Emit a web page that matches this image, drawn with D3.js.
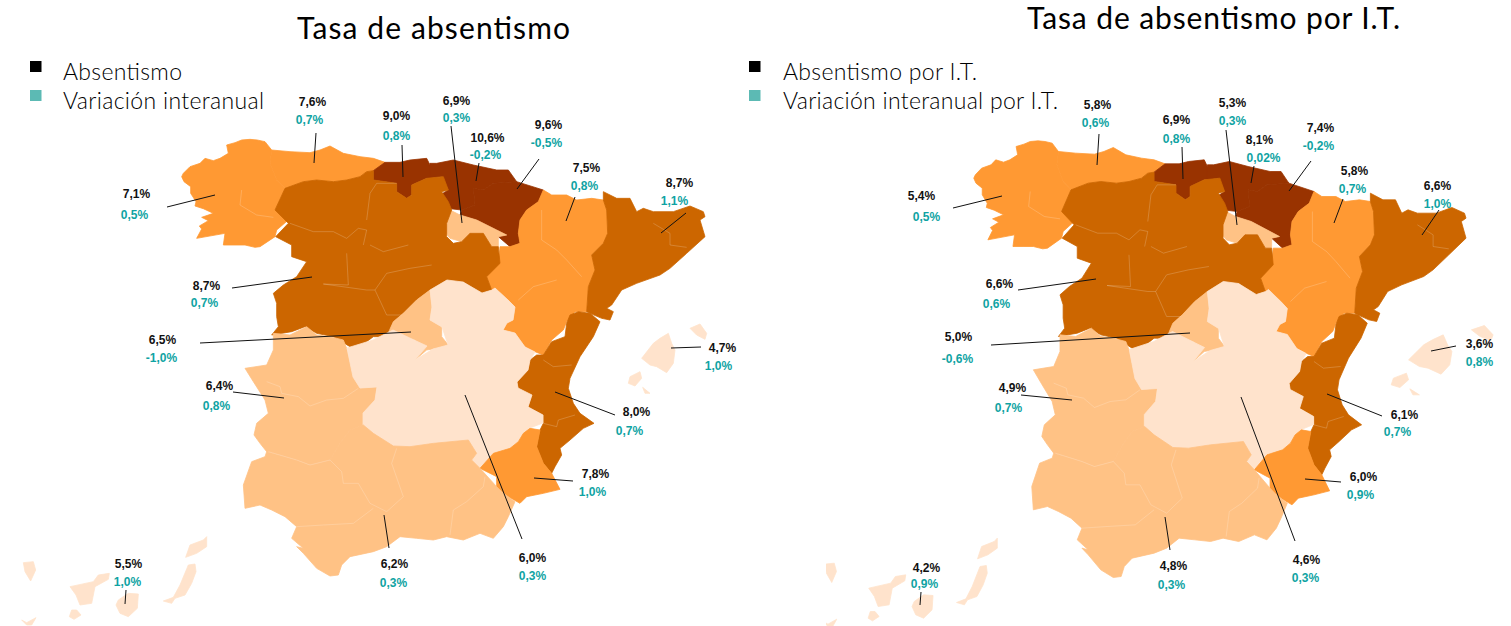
<!DOCTYPE html>
<html><head><meta charset="utf-8">
<style>
html,body{margin:0;padding:0;background:#fff;overflow:hidden}
svg{display:block}
.t{font-family:Lato,"Open Sans",sans-serif;font-weight:300;fill:#000}
.tt{font-weight:400}
.v{font-family:"Liberation Sans",Arial,sans-serif;font-weight:700;font-size:12px;text-anchor:middle}
</style>
<script src="https://cdn.jsdelivr.net/npm/d3@7"></script>
</head><body>
<script>
// ---------- data ----------
const regiones = ["Galicia","Asturias","Cantabria","País Vasco","Navarra","La Rioja","Aragón","Cataluña","Castilla y León","Madrid","Extremadura","C. Valenciana","Castilla-La Mancha","Murcia","Andalucía","Baleares","Canarias"];
const absentismo   = [7.1,7.6,9.0,10.6,9.6,6.9,7.5,8.7,8.7,6.5,6.4,8.0,6.0,7.8,6.2,4.7,5.5];
const variacion    = [0.5,0.7,0.8,-0.2,-0.5,0.3,0.8,1.1,0.7,-1.0,0.8,0.7,0.3,1.0,0.3,1.0,1.0];
const absentismoIT = [5.4,5.8,6.9,8.1,7.4,5.3,5.8,6.6,6.6,5.0,4.9,6.1,4.6,6.0,4.8,3.6,4.2];
const variacionIT  = [0.5,0.6,0.8,0.02,-0.2,0.3,0.7,1.0,0.6,-0.6,0.7,0.7,0.3,0.9,0.3,0.8,0.9];
const paleta = ["#FFE3CC","#FFC285","#FF9933","#CC6600","#993300"];
const cortes   = [6.1,7,8,9];
const cortesIT = [4.7,5.4,6.1,6.9];

// ---------- map outlines (map units, drawn through scales) ----------
const fr=(ox,oy,p)=>p.map(([x,y])=>[ox+x/3,oy+y/3]);
const A=p=>fr(170,130,p), B=p=>fr(420,130,p), C=p=>fr(230,320,p), D=p=>fr(470,300,p), E=p=>fr(0,520,p);
const formas = {
 "Galicia":[A([[40,130],[60,110],[90,100],[105,85],[130,92],[150,85],[175,70],[170,45],[195,38],[215,30],[240,28],[262,30],[285,35],[305,60],[300,100],[320,150],[345,175],[315,240],[355,270],[320,300],[315,320],[270,350],[255,352],[225,345],[195,345],[160,345],[165,310],[80,325],[95,297],[88,288],[115,272],[95,262],[130,250],[100,236],[75,228],[78,215],[62,190],[62,170],[42,155],[35,140]])],
 "Asturias":[A([[305,60],[360,65],[420,68],[450,60],[480,48],[520,70],[570,80],[610,85],[645,97],[610,122],[590,125],[570,140],[530,150],[490,155],[440,150],[400,155],[345,175],[320,150],[300,100]])],
 "Cantabria":[A([[610,122],[645,97],[690,97],[720,90],[770,85],[780,105],[790,120],[785,145],[770,145],[725,165],[725,195],[710,205],[680,185],[680,160],[610,150]])],
 "País Vasco":[B([[30,100],[50,100],[100,90],[160,105],[230,120],[265,120],[290,155],[220,160],[190,180],[160,175],[165,225],[125,240],[80,235],[60,195],[85,180],[65,140],[30,145]])],
 "Navarra":[B([[290,155],[370,180],[355,215],[320,240],[300,270],[295,310],[300,340],[270,350],[235,320],[260,315],[230,300],[170,270],[120,255],[125,240],[165,225],[160,175],[190,180],[220,160]])],
 "La Rioja":[B([[80,235],[120,255],[170,270],[230,300],[260,315],[235,320],[235,350],[215,350],[190,310],[150,310],[125,335],[90,325],[78,310]])],
 "Aragón":[B([[370,180],[395,195],[440,195],[470,210],[515,205],[550,210],[560,240],[563,310],[550,340],[515,375],[525,420],[505,470],[500,545],[465,545],[440,575],[430,600],[395,630],[370,675],[345,665],[315,650],[285,610],[250,600],[260,580],[280,570],[285,530],[265,510],[225,475],[215,480],[200,440],[235,400],[240,350],[270,350],[300,340],[295,310],[300,270],[320,240],[355,215]])],
 "Cataluña":[B([[550,185],[590,205],[630,205],[650,245],[670,235],[700,245],[760,245],[810,228],[850,245],[855,260],[840,270],[855,320],[800,370],[750,415],[720,435],[650,460],[605,480],[575,525],[560,535],[580,545],[570,570],[545,565],[510,550],[500,545],[505,470],[525,420],[515,375],[550,340],[563,310],[560,240],[550,210]])],
 "Castilla y León":[A([[345,175],[400,155],[440,150],[490,155],[530,150],[570,140],[590,125],[610,122],[610,150],[680,160],[680,185],[710,205],[725,195],[725,165],[770,145],[820,140],[835,180],[815,185],[835,215],[845,240],[830,280],[830,320],[850,340],[875,335],[900,310],[940,310],[965,350],[985,350],[990,400],[950,440],[965,480],[935,490],[880,455],[850,460],[830,450],[780,480],[740,510],[700,550],[670,575],[650,620],[610,620],[570,650],[540,650],[490,620],[440,610],[405,590],[365,605],[305,615],[325,590],[320,560],[320,520],[310,490],[340,465],[380,440],[410,395],[365,380],[365,345],[317,320],[355,280],[315,240]])],
 "Madrid":[A([[670,575],[700,550],[740,510],[780,480],[785,530],[780,570],[815,590],[815,620],[835,645],[800,655],[770,660],[735,690],[757,650],[735,630],[670,610],[650,620]])],
 "Extremadura":[C([[130,40],[180,45],[230,20],[260,45],[300,50],[340,60],[350,85],[370,170],[390,205],[440,200],[435,240],[400,280],[400,315],[360,330],[330,370],[300,420],[240,435],[200,420],[150,405],[110,395],[90,370],[72,345],[80,310],[115,280],[105,240],[70,185],[45,145],[110,135],[130,90]])],
 "C. Valenciana":[D([[300,45],[325,35],[360,40],[390,65],[370,110],[330,170],[300,235],[295,265],[310,310],[330,340],[372,370],[340,385],[300,420],[270,445],[275,465],[255,500],[245,520],[220,490],[200,440],[210,390],[220,370],[220,345],[175,320],[185,285],[145,265],[140,245],[175,210],[180,180],[200,165],[220,165],[245,125],[285,110],[290,70]])],
 "Castilla-La Mancha":[[[430,290],[447,280],[463,282],[482,293],[492,290],[495,288],[508,300],[515,307],[513,320],[507,323],[503,330],[515,333],[525,347],[535,352],[530,360],[528,370],[517,382],[518,388],[532,395],[528,407],[543,415],[543,423],[530,428],[523,433],[518,442],[510,448],[493,453],[480,468],[472,460],[477,453],[468,440],[433,443],[410,447],[393,446],[373,433],[363,425],[363,413],[375,400],[377,387],[360,388],[353,377],[347,348],[373,340],[393,330],[414,340],[427,346],[415,360],[433,349],[448,345],[442,327],[430,320],[432,307]]],
 "Murcia":[D([[180,385],[210,390],[200,440],[220,490],[245,520],[270,568],[220,580],[170,590],[150,610],[115,590],[80,565],[80,530],[30,505],[70,460],[120,445],[145,425],[160,400]])],
 "Andalucía":[C([[110,395],[150,405],[200,420],[240,435],[300,420],[330,370],[360,330],[400,315],[430,340],[490,378],[540,380],[610,370],[715,360],[740,400],[725,420],[750,445],[800,500],[820,520],[855,545],[835,590],[820,620],[790,655],[750,640],[700,660],[650,650],[610,660],[560,655],[510,650],[470,680],[430,695],[360,710],[335,735],[325,765],[300,768],[260,745],[220,700],[200,680],[220,685],[185,655],[200,620],[165,590],[125,570],[90,555],[45,565],[40,495],[65,425],[105,410]])],
 "Baleares":[D([[595,100],[605,130],[615,150],[610,190],[590,218],[560,200],[540,195],[515,175],[550,130],[570,115]]),D([[660,85],[690,72],[710,100],[705,118],[680,105]]),D([[480,230],[510,215],[515,235],[495,258],[475,250]]),D([[518,262],[540,280],[525,280]])],
 "Canarias":[E([[70,128],[100,125],[107,150],[92,183],[75,155]]),E([[65,300],[80,308],[108,293],[95,315],[80,315]]),E([[215,270],[230,270],[243,285],[222,298],[208,290]]),E([[210,200],[280,185],[295,165],[328,160],[325,178],[285,200],[275,250],[240,255],[228,225]]),E([[355,240],[385,220],[415,222],[412,265],[385,290],[360,280],[348,255]]),E([[565,135],[585,132],[588,155],[575,190],[555,225],[525,235],[515,250],[490,243],[520,232],[540,195]]),E([[570,75],[610,60],[620,50],[620,80],[590,100],[557,112]])]
};
const limites = [
 A([[590,270],[600,190],[620,160],[680,160]]),
 A([[360,280],[430,305],[490,305],[530,325],[565,295],[590,300],[580,345]]),
 A([[600,345],[640,365],[715,345]]),
 A([[530,370],[535,465],[460,462],[590,480],[615,480],[650,430],[720,415],[785,405]]),
 A([[615,480],[650,555],[695,555]]),
 A([[215,180],[210,225],[260,255],[310,262]]),
 B([[365,240],[365,330],[410,360],[440,390],[485,440]]),
 B([[700,280],[750,310],[750,345],[800,352]]),
 B([[295,510],[340,470],[410,450]]),
 D([[220,370],[260,380],[265,360],[315,345]]),
 D([[220,180],[250,200],[305,195]]),
 C([[110,185],[150,200],[155,220],[205,230],[240,258],[290,240],[340,235],[385,205]]),
 C([[115,395],[200,420],[240,435],[300,420],[335,455],[340,490],[385,490],[420,550],[470,575],[520,530],[485,430],[500,385]]),
 C([[200,620],[280,615],[370,610],[430,565]]),
 C([[660,645],[670,570],[710,545],[760,500],[765,470]])
];

// ---------- layout ----------
// value label xy, change label xy, leader x1,y1,x2,y2  (same order as regiones)
const rotulos = [
 [136,193,134,214,167,207,215,195],[312,101,309,119,316,133,314,163],[396,115,396,135,402,145,403,177],
 [487,137,485,154,479,163,476,181],[548,124,546,142,539,159,517,189],[456,100,456,117,451,126,462,223],
 [586,167,584,185,575,197,566,221],[679,182,674,200,686,213,661,233],[206,285,204,302,232,288,312,277],
 [162,339,161,357,200,343,411,332],[219,385,216,405,233,392,284,398],[636,411,629,430,555,392,615,415],
 [532,557,532,575,465,395,522,539],[595,473,592,491,534,478,573,481],[394,563,393,582,384,515,389,548],
 [722,347,718,365,671,348,701,347],[128,563,127,581,126,590,125,604]].map(d=>[d[0]+.5,d[1]+.5,d[2]+.5,d[3]+.5,...d.slice(4)]);
const rotulosIT = [
 [921,195,926,216,953,208,1002,196],[1097,104,1095,122,1099,134,1097,165],[1176,119,1176,138,1182,147,1183,179],
 [1259,139,1263,157,1254,166,1251,183],[1320,127,1318,145,1311,161,1289,191],[1232,102,1232,120,1226,130,1237,225],
 [1354,170,1352,188,1343,199,1334,223],[1437,185,1437,203,1439,210,1422,235],[999,283,996,303,1018,290,1096,279],
 [958,336,957,358,991,345,1190,333],[1012,387,1008,407,1021,395,1072,400],[1404,414,1397,431,1327,394,1382,416],
 [1306,559,1305,577,1241,397,1295,541],[1363,476,1360,494,1305,479,1341,482],[1173,565,1171,584,1165,517,1170,550],
 [1479,343,1479,361,1431,351,1456,346],[926,567,924,583,921,592,920,605]].map(d=>[d[0]+.5,d[1]+.5,d[2]+.5,d[3]+.5,...d.slice(4)]);

const svg=d3.select("body").append("svg").attr("width",1511).attr("height",626).style("background","#fff");
const loc=d3.formatLocale({decimal:",",thousands:".",grouping:[3],currency:["","€"],minus:"-"});
const f1=loc.format(".1f"), f2=loc.format(".2f");
const pct=v=>(v!==0&&Math.abs(v)<0.05?f2(v):f1(v))+"%";
const proj=(sx,sy)=>d3.geoPath(d3.geoTransform({point(x,y){this.stream.point(sx(x),sy(y));}}));
const geom=n=>({type:"MultiPolygon",coordinates:formas[n].map(r=>[[...r,r[0]]])});
const defs=svg.append("defs");
defs.append("clipPath").attr("id","cr").append("rect").attr("x",826).attr("y",0).attr("width",700).attr("height",626);

function mapa(cfg){
  const g=svg.append("g").attr("clip-path",cfg.clip||null);
  const color=d3.scaleThreshold().domain(cfg.cortes).range(paleta);
  const main=proj(cfg.x,cfg.y), bal=proj(cfg.xBal,cfg.y);
  g.selectAll("path.r").data(regiones).join("path").attr("class","r")
    .attr("d",n=>(n==="Baleares"?bal:main)(geom(n)))
    .attr("fill",(n,i)=>color(cfg.vals[i])).attr("stroke",(n,i)=>color(cfg.vals[i])).attr("stroke-width",.8).attr("stroke-linejoin","round");
  g.selectAll("path.l").data(limites).join("path").attr("class","l")
    .attr("d",p=>main({type:"LineString",coordinates:p}))
    .attr("fill","none").attr("stroke","#fff").attr("stroke-opacity",.28).attr("stroke-width",.7);
  const s=svg.append("g");
  s.selectAll("line").data(cfg.pos).join("line")
    .attr("x1",d=>d[4]).attr("y1",d=>d[5]).attr("x2",d=>d[6]).attr("y2",d=>d[7]).attr("stroke","#111").attr("stroke-width",1);
  s.selectAll("text.a").data(cfg.pos).join("text").attr("class","v a")
    .attr("x",d=>d[0]).attr("y",d=>d[1]+4).attr("fill","#111").text((d,i)=>pct(cfg.vals[i]));
  s.selectAll("text.b").data(cfg.pos).join("text").attr("class","v b")
    .attr("x",d=>d[2]).attr("y",d=>d[3]+4).attr("fill","#0FA3A3").text((d,i)=>pct(cfg.vars[i]));
}
const id=d3.scaleLinear().domain([0,1000]);
mapa({vals:absentismo,vars:variacion,cortes,pos:rotulos,x:id.copy().range([0,1000]),xBal:id.copy().range([0,1000]),y:id.copy().range([0,1000])});
mapa({vals:absentismoIT,vars:variacionIT,cortes:cortesIT,pos:rotulosIT,clip:"url(#cr)",
  x:id.copy().range([802.9,1743.5]),xBal:id.copy().range([574.4,1874.4]),y:id.copy().range([1.5,1001.5])});

function texto(x,y,s,size,w,cls){
  svg.append("text").attr("class","t "+(cls||"")).attr("x",x).attr("y",y).attr("font-size",size)
    .attr("textLength",w).attr("lengthAdjust","spacing").text(s);
}
function leyenda(qx,tx,a,aw,b,bw){
  [[61,"#000"],[90,"#5CBAB4"]].forEach(([y,c])=>svg.append("rect").attr("x",qx).attr("y",y).attr("width",11.5).attr("height",11).attr("fill",c));
  texto(tx,80,a,23,aw); texto(tx,109,b,23,bw);
}
texto(297,39,"Tasa de absentismo",30,273,"tt");
texto(1027,29,"Tasa de absentismo por I.T.",30,373,"tt");
leyenda(30,63,"Absentismo",119,"Variación interanual",201);
leyenda(749,783,"Absentismo por I.T.",194,"Variación interanual por I.T.",275);
</script>
</body></html>
